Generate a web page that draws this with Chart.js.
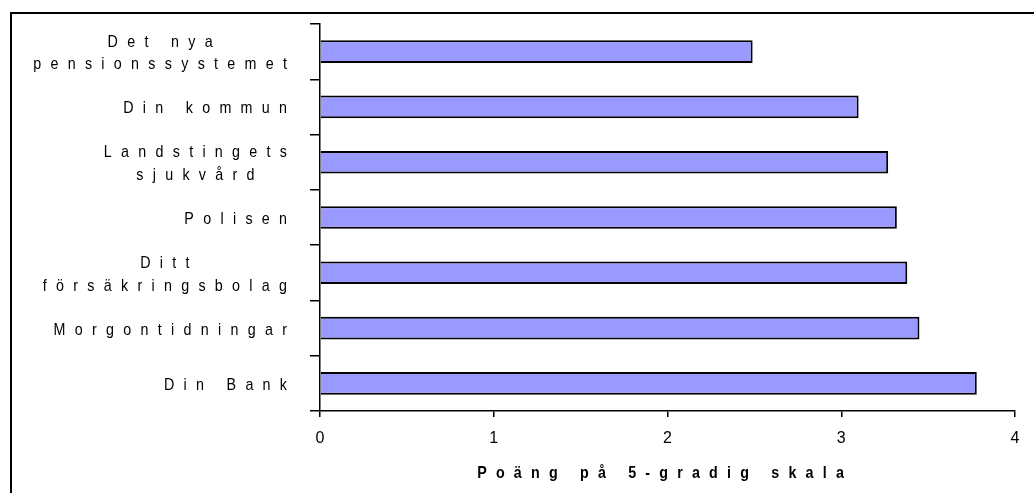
<!DOCTYPE html>
<html>
<head>
<meta charset="utf-8">
<script src="https://cdn.jsdelivr.net/npm/chart.js@4.4.0/dist/chart.umd.min.js"></script>
<style>
  html, body { margin: 0; padding: 0; background: #ffffff; }
  #wrap { position: relative; width: 1034px; height: 493px; }
</style>
</head>
<body>
<div id="wrap"><canvas id="c" width="1034" height="493"></canvas></div>
<script>
const categories = [
  ["Det nya", "pensionssystemet"],
  "Din kommun",
  ["Landstingets", "sjukvård"],
  "Polisen",
  ["Ditt", "försäkringsbolag"],
  "Morgontidningar",
  "Din Bank"
];
const values = [2.49, 3.10, 3.27, 3.32, 3.38, 3.45, 3.78];
const xTickValues = [0, 1, 2, 3, 4];
const xTitle = "Poäng på 5-gradig skala";

const FONT_FAMILY = '"Liberation Sans", Arial, sans-serif';
const LABEL_SIZE = 17;
const SQUEEZE = 0.84;
const LABEL_SPACING = 9.3;
const TITLE_SPACING = 9.2;

function spacedWidth(ctx, text, spacing) {
  ctx.letterSpacing = (spacing / SQUEEZE) + 'px';
  const w = ctx.measureText(text).width * SQUEEZE - spacing;
  ctx.letterSpacing = '0px';
  return w;
}

function drawSpaced(ctx, text, cx, y, spacing) {
  const w = spacedWidth(ctx, text, spacing);
  ctx.save();
  ctx.translate(cx - w / 2, y);
  ctx.scale(SQUEEZE, 1);
  ctx.letterSpacing = (spacing / SQUEEZE) + 'px';
  ctx.textAlign = 'left';
  ctx.fillText(text, 0, 0);
  ctx.restore();
}

const customText = {
  id: 'customText',
  afterDraw(chart) {
    const ctx = chart.ctx;
    const yScale = chart.scales.y;
    const xScale = chart.scales.x;
    ctx.save();
    ctx.fillStyle = '#000000';
    ctx.textBaseline = 'alphabetic';
    ctx.font = LABEL_SIZE + 'px ' + FONT_FAMILY;
    const rightEdge = yScale.right - 33;
    const lineH = 22.5;
    categories.forEach((lab, i) => {
      const lines = Array.isArray(lab) ? lab : [lab];
      let widest = 0;
      lines.forEach(l => { widest = Math.max(widest, spacedWidth(ctx, l, LABEL_SPACING)); });
      const cx = rightEdge - widest / 2;
      const cy = yScale.getPixelForTick(i);
      lines.forEach((l, j) => {
        const y = cy + (j - (lines.length - 1) / 2) * lineH + 6.5;
        drawSpaced(ctx, l, cx, y, LABEL_SPACING);
      });
    });
    ctx.font = 'bold ' + LABEL_SIZE + 'px ' + FONT_FAMILY;
    const tcx = (xScale.left + xScale.right) / 2 - 7;
    drawSpaced(ctx, xTitle, tcx, chart.height - 15, TITLE_SPACING);
    ctx.restore();

    ctx.save();
    ctx.strokeStyle = '#000000';
    ctx.lineWidth = 2;
    ctx.strokeRect(11, 13, 3000, 3000);
    ctx.restore();
  }
};

new Chart(document.getElementById('c'), {
  type: 'bar',
  data: {
    labels: categories,
    datasets: [{
      data: values,
      backgroundColor: '#9999FF',
      borderColor: '#000000',
      borderWidth: 2,
      borderSkipped: 'start',
      barPercentage: 0.41,
      categoryPercentage: 1.0
    }]
  },
  options: {
    indexAxis: 'y',
    responsive: false,
    animation: false,
    devicePixelRatio: 1,
    layout: { padding: { left: 0, top: 24, right: 19, bottom: 0 } },
    plugins: { legend: { display: false }, tooltip: { enabled: false }, title: { display: false } },
    scales: {
      x: {
        type: 'linear',
        min: 0,
        max: 4,
        afterBuildTicks(scale) { scale.ticks = xTickValues.map(v => ({ value: v })); },
        grid: { drawOnChartArea: false, drawTicks: true, tickLength: 6, color: '#000000', lineWidth: 1.5 },
        border: { display: true, color: '#000000', width: 1.5 },
        ticks: {
          color: '#000000',
          font: { family: FONT_FAMILY, size: 16 },
          padding: 12,
          maxRotation: 0
        },
        afterFit(scale) { scale.height = 82; }
      },
      y: {
        type: 'category',
        offset: true,
        grid: { offset: true, drawOnChartArea: false, drawTicks: true, tickLength: 10, color: '#000000', lineWidth: 1.5 },
        border: { display: true, color: '#000000', width: 1.5 },
        ticks: { display: false },
        afterFit(scale) { scale.width = 320; }
      }
    }
  },
  plugins: [customText]
});
</script>
</body>
</html>
